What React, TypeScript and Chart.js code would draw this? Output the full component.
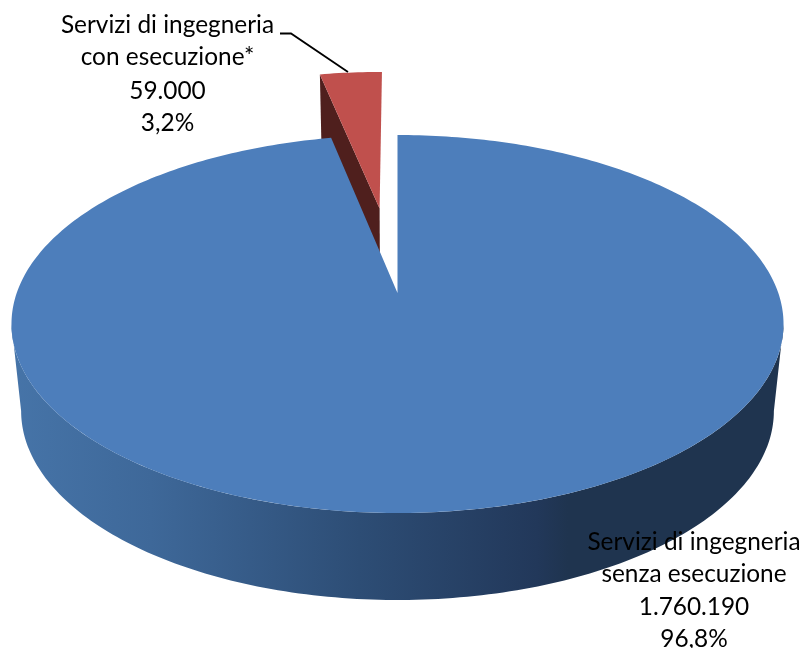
import React, { useEffect, useRef } from "react";
import { Chart, registerables } from "chart.js";

Chart.register(...registerables);

const categories = ["Servizi di ingegneria senza esecuzione", "Servizi di ingegneria con esecuzione*"];
const values = [1760190, 59000];
const labelLines = [
  ["Servizi di ingegneria", "senza esecuzione", "1.760.190", "96,8%"],
  ["Servizi di ingegneria", "con esecuzione*", "59.000", "3,2%"],
];
const explode = [0, 0.5];
const topColors = ["#4D7EBB", "#C0504D"];

const CX = 397.5, CY = 293, A = 183.9, B = 380.8, K = -0.164, DEPTH = 87, BOTTOM_SCALE = 0.975;

type P = [number, number];
const proj = (u: number, v: number, bottom = false): P => {
  const w = 1 + K * v;
  const s = bottom ? BOTTOM_SCALE : 1;
  return [CX + (s * B * u) / w, CY + (A * v) / w + (bottom ? DEPTH : 0)];
};

const poly = (ctx: CanvasRenderingContext2D, pts: P[], fill: string | CanvasGradient) => {
  ctx.beginPath();
  pts.forEach((p, i) => (i ? ctx.lineTo(p[0], p[1]) : ctx.moveTo(p[0], p[1])));
  ctx.closePath();
  ctx.fillStyle = fill;
  ctx.fill();
};

const arcPts = (a0: number, a1: number, ou: number, ov: number, bottom = false): P[] => {
  const pts: P[] = [];
  const n = Math.max(4, Math.ceil(Math.abs(a1 - a0) * 60));
  for (let i = 0; i <= n; i++) {
    const a = a0 + ((a1 - a0) * i) / n;
    pts.push(proj(ou + Math.cos(a), ov + Math.sin(a), bottom));
  }
  return pts;
};

const pie3d = {
  id: "pie3d",
  beforeDatasetDraw(chart: any) {
    const ctx: CanvasRenderingContext2D = chart.ctx;
    const arcs = chart.getDatasetMeta(0).data;
    const [blue, red] = arcs;

    // red wedge, exploded along its middle angle
    const rMid = (red.startAngle + red.endAngle) / 2;
    const ru = explode[1] * Math.cos(rMid), rv = explode[1] * Math.sin(rMid);
    const rc = proj(ru, rv), rcb = proj(ru, rv, true);
    const rl: P = proj(ru + Math.cos(red.startAngle), rv + Math.sin(red.startAngle));
    const rlb: P = proj(ru + Math.cos(red.startAngle), rv + Math.sin(red.startAngle), true);
    poly(ctx, [rl, rc, rcb, rlb], "#4F1F1D");
    poly(ctx, [rc, ...arcPts(red.startAngle, red.endAngle, ru, rv)], topColors[1]);

    // blue side wall
    const s = Math.asin(-K);
    const front = arcPts(s, Math.PI - s, 0, 0);
    const back = arcPts(Math.PI - s, s, 0, 0, true);
    const g = ctx.createLinearGradient(12, 0, 784, 0);
    g.addColorStop(0, "#4674A8");
    g.addColorStop(0.18, "#3E6899");
    g.addColorStop(0.45, "#2D4D75");
    g.addColorStop(0.68, "#22385A");
    g.addColorStop(0.72, "#1F344F");
    g.addColorStop(1, "#1F344F");
    poly(ctx, [...front, ...back], g);

    // blue top face
    poly(ctx, [proj(0, 0), ...arcPts(blue.startAngle, blue.endAngle, 0, 0)], topColors[0]);

    // leader line
    ctx.beginPath();
    ctx.moveTo(280, 33.5);
    ctx.lineTo(291, 33.5);
    ctx.lineTo(348, 72);
    ctx.strokeStyle = "#000";
    ctx.lineWidth = 1.8;
    ctx.stroke();

    // labels
    ctx.fillStyle = "#000";
    ctx.font = "24.4px Lato";
    ctx.textAlign = "center";
    ctx.textBaseline = "alphabetic";
    labelLines[1].forEach((t, i) => ctx.fillText(t, 167.5, [33, 65, 99, 131][i]));
    labelLines[0].forEach((t, i) => ctx.fillText(t, 694, [550, 582, 615, 647][i]));
    return false;
  },
};

export default function App() {
  const ref = useRef<HTMLCanvasElement>(null);
  useEffect(() => {
    const chart = new Chart(ref.current!, {
      type: "pie",
      data: { labels: categories, datasets: [{ data: values, backgroundColor: topColors, borderWidth: 0 }] },
      options: {
        animation: false,
        responsive: false,
        plugins: { legend: { display: false }, tooltip: { enabled: false } },
      },
      plugins: [pie3d],
    } as any);
    return () => chart.destroy();
  }, []);
  return (
    <div style={{ position: "absolute", left: 0, top: 0, width: 805, height: 648, background: "#fff" }}>
      <canvas ref={ref} width={805} height={648} style={{ display: "block" }} />
    </div>
  );
}
